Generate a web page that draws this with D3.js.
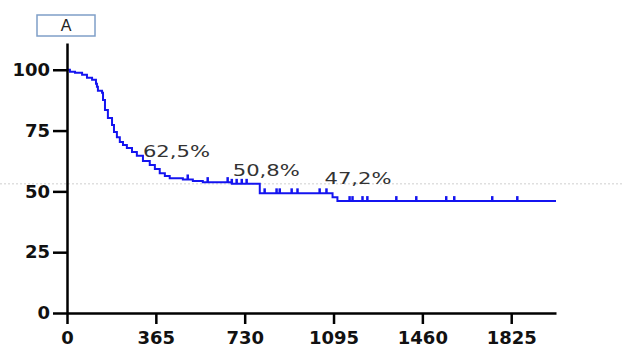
<!DOCTYPE html>
<html>
<head>
<meta charset="utf-8">
<script src="https://cdn.jsdelivr.net/npm/d3@7"></script>
<style>
  body { margin: 0; background: #fff; }
  svg { display: block; }
</style>
</head>
<body>
<div id="chart"></div>
<script>
// Kaplan-Meier steps: day, survival % after the step
const stepDays = [0, 12, 33, 62, 82, 103, 119, 123, 127, 144, 148, 156, 168, 185, 193, 205, 217, 230, 246, 267, 287, 312, 340, 361, 381, 402, 422, 476, 517, 558, 677, 792, 1091, 1111];
const stepPct  = [100, 99.2, 98.8, 97.9, 96.7, 95.9, 94.2, 93.0, 91.4, 90.5, 87.6, 83.5, 80.2, 77.3, 74.4, 72.3, 70.3, 69.1, 67.8, 66.2, 64.6, 62.5, 60.8, 59.2, 57.5, 56.3, 55.4, 54.9, 54.3, 53.8, 53.1, 49.2, 47.6, 46.0];
const lastDay = 2009;

// censored observations (days)
const censorDays = [496, 578, 660, 677, 697, 718, 738, 812, 861, 874, 923, 947, 1038, 1066, 1161, 1173, 1214, 1234, 1353, 1435, 1558, 1591, 1747, 1850];

const xTicks = [0, 365, 730, 1095, 1460, 1825];
const yTicks = [0, 25, 50, 75, 100];

const labelText = ['62,5%', '50,8%', '47,2%'];
const labelDay  = [312, 681, 1058];
const labelPct  = [64.2, 56.4, 53.0];

const panelTitle = 'A';

const width = 622, height = 349;

const svg = d3.select('#chart').append('svg')
  .attr('width', width)
  .attr('height', height);

const x = d3.scaleLinear().domain([0, lastDay]).range([67, 556]);
const y = d3.scaleLinear().domain([0, 111]).range([313, 43]);

// faint dotted guide across the page
svg.append('line')
  .attr('x1', 0).attr('x2', width)
  .attr('y1', y(53.1)).attr('y2', y(53.1))
  .attr('stroke', '#cfcfcf')
  .attr('stroke-width', 1)
  .attr('stroke-dasharray', '2,2');

const steps = stepDays.map((d, i) => [d, stepPct[i]]);
const linePts = steps.concat([[lastDay, stepPct[stepPct.length - 1]]]);

const line = d3.line()
  .x(d => x(d[0]))
  .y(d => y(d[1]))
  .curve(d3.curveStepAfter);

svg.append('path')
  .datum(linePts)
  .attr('d', line)
  .attr('fill', 'none')
  .attr('stroke', '#1414f0')
  .attr('stroke-width', 2);

// censor marks
const bis = d3.bisector(d => d[0]).right;
svg.append('g')
  .selectAll('line')
  .data(censorDays)
  .enter().append('line')
    .attr('x1', d => x(d)).attr('x2', d => x(d))
    .attr('y1', d => y(steps[bis(steps, d) - 1][1]))
    .attr('y2', d => y(steps[bis(steps, d) - 1][1]) - 5)
    .attr('stroke', '#1414f0')
    .attr('stroke-width', 2.5);

// axes
const xAxis = d3.axisBottom(x).tickValues(xTicks).tickFormat(d3.format('d'))
  .tickSize(11).tickPadding(7).tickSizeOuter(0);
const yAxis = d3.axisLeft(y).tickValues(yTicks).tickFormat(d3.format('d'))
  .tickSize(14).tickPadding(3).tickSizeOuter(0);

const gx = svg.append('g')
  .attr('transform', 'translate(0,' + y(0) + ')')
  .call(xAxis);

const gy = svg.append('g')
  .attr('transform', 'translate(' + x(0) + ',0)')
  .call(yAxis);

[gx, gy].forEach(g => {
  g.select('.domain').attr('stroke', '#000').attr('stroke-width', 2.5);
  g.selectAll('.tick line').attr('stroke', '#000').attr('stroke-width', 2.5);
  g.selectAll('.tick text')
    .attr('fill', '#111')
    .style('font-family', '"DejaVu Sans", sans-serif')
    .style('font-weight', 'bold')
    .style('font-size', '18px');
});

// percentage annotations
svg.append('g')
  .selectAll('text')
  .data(labelText)
  .enter().append('text')
    .attr('x', (d, i) => x(labelDay[i]))
    .attr('y', (d, i) => y(labelPct[i]))
    .attr('textLength', 67)
    .attr('lengthAdjust', 'spacingAndGlyphs')
    .attr('fill', '#333')
    .style('font-family', '"DejaVu Sans", sans-serif')
    .style('font-size', '15px')
    .text(d => d);

// panel title box
const tb = svg.append('g').attr('transform', 'translate(37,15)');
tb.append('rect')
  .attr('width', 58).attr('height', 21)
  .attr('fill', '#fff')
  .attr('stroke', '#7f9fc8')
  .attr('stroke-width', 1.5);
tb.append('text')
  .attr('x', 29).attr('y', 16)
  .attr('text-anchor', 'middle')
  .attr('fill', '#222')
  .style('font-family', '"Liberation Sans", Arial, sans-serif')
  .style('font-size', '16px')
  .text(panelTitle);
</script>
</body>
</html>
